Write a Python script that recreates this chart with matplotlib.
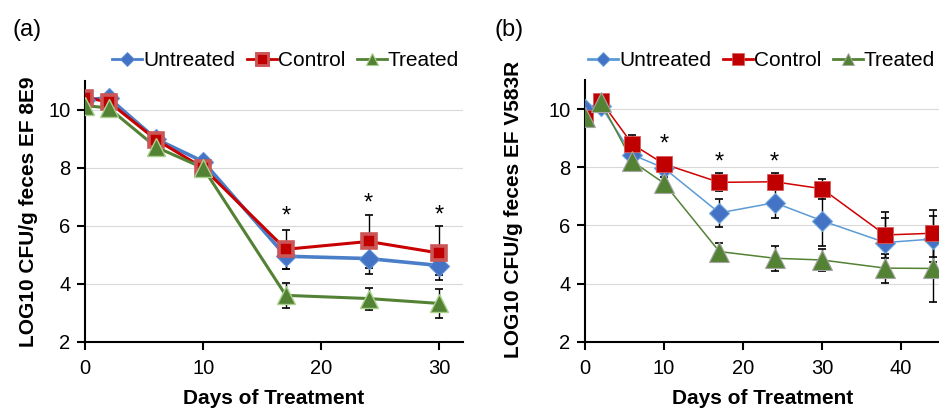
import matplotlib
matplotlib.use("Agg")
import matplotlib.pyplot as plt
from matplotlib.lines import Line2D

plt.rcParams['font.family'] = ['Liberation Sans', 'DejaVu Sans']

# ---------------- data ----------------
days_a = [0, 2, 6, 10, 17, 24, 30]
untreated_a = [10.35, 10.42, 9.00, 8.22, 4.95, 4.87, 4.63]
untreated_a_err = [0.10, 0.10, 0.15, 0.15, 0.45, 0.54, 0.33]
control_a = [10.43, 10.28, 8.98, 8.00, 5.19, 5.46, 5.06]
control_a_err = [0.10, 0.10, 0.15, 0.15, 0.68, 0.90, 0.93]
treated_a = [10.15, 10.07, 8.72, 8.00, 3.60, 3.49, 3.32]
treated_a_err = [0.10, 0.10, 0.15, 0.15, 0.43, 0.38, 0.49]
stars_a_x = [17, 24, 30]
stars_a_y = [6.55, 7.00, 6.57]

days_b = [0, 2, 6, 10, 17, 24, 30, 38, 44]
untreated_b = [10.00, 10.10, 8.43, 7.97, 6.43, 6.78, 6.16, 5.41, 5.53]
untreated_b_err = [0.10, 0.15, 0.20, 0.15, 0.49, 0.53, 0.88, 0.84, 0.78]
control_b = [9.68, 10.28, 8.79, 8.11, 7.48, 7.50, 7.26, 5.67, 5.73]
control_b_err = [0.15, 0.10, 0.33, 0.15, 0.31, 0.30, 0.35, 0.80, 0.80]
treated_b = [9.74, 10.25, 8.20, 7.45, 5.10, 4.87, 4.81, 4.53, 4.52]
treated_b_err = [0.15, 0.10, 0.20, 0.20, 0.28, 0.43, 0.38, 0.50, 1.15]
stars_b_x = [10, 17, 24]
stars_b_y = [9.00, 8.37, 8.37]

series_names = ["Untreated", "Control", "Treated"]
y_ticks = [2, 4, 6, 8, 10]
xticks_a = [0, 10, 20, 30]
xticks_b = [0, 10, 20, 30, 40]
ylabel_a = "LOG10 CFU/g feces EF 8E9"
ylabel_b = "LOG10 CFU/g feces EF V583R"
xlabel = "Days of Treatment"

# ---------------- style ----------------
BLUE_M = "#4472C4"
RED_M = "#C00000"
GREEN_M = "#548235"

W, H = 939, 408
fig = plt.figure(figsize=(W / 100, H / 100), dpi=100)
ax_a = fig.add_axes([85 / W, 1 - 341.7 / H, (463 - 85) / W, (341.7 - 81) / H])
ax_b = fig.add_axes([585 / W, 1 - 341.7 / H, (939 - 585) / W, (341.7 - 80) / H])

style_a = [
    dict(marker="D", color="#4A7EC8", mfc=BLUE_M, mec="#5B8FD5", ms=10.5, mew=0.8, lw=2.6),
    dict(marker="s", color="#C80000", mfc=RED_M, mec="#CC5555", ms=10.5, mew=2.6, lw=2.2),
    dict(marker="^", color=GREEN_M, mfc=GREEN_M, mec="#A9D18E", ms=12.5, mew=1.0, lw=2.2),
]
style_b = [
    dict(marker="D", color="#5B9BD5", mfc=BLUE_M, mec="#6FA8DC", ms=10, mew=0.8, lw=1.1),
    dict(marker="s", color="#D00000", mfc=RED_M, mec="#D85A5A", ms=12, mew=0.6, lw=1.1),
    dict(marker="^", color=GREEN_M, mfc=GREEN_M, mec="#A6A6A6", ms=14, mew=0.8, lw=1.1),
]

STAR_FS = 17


def draw_panel(ax, days, ys, errs, styles, stars_x, stars_y, xticks, xmax, ylab):
    for i, (y, e, st) in enumerate(zip(ys, errs, styles)):
        ax.plot(days, y, linestyle="-", color=st["color"], lw=st["lw"], zorder=3 + i * 0.1)
    for i, (y, e, st) in enumerate(zip(ys, errs, styles)):
        ax.errorbar(days, y, yerr=e, fmt="none", ecolor="black", elinewidth=1.0,
                    capsize=2.6, capthick=1.2, zorder=4 + i * 0.1)
        ax.plot(days, y, linestyle="none", marker=st["marker"], ms=st["ms"],
                mfc=st["mfc"], mec=st["mec"], mew=st["mew"], zorder=5 + i * 0.1)
    for sx, sy in zip(stars_x, stars_y):
        ax.annotate("*", (sx, sy), xytext=(0, -0.52 * STAR_FS), textcoords="offset points",
                    ha="center", va="baseline", fontsize=STAR_FS, color="black", zorder=6)
    ax.set_xlim(0, xmax)
    ax.set_ylim(2, 11)
    ax.set_yticks(y_ticks)
    ax.set_xticks(xticks)
    ax.grid(axis="y", color="#D9D9D9", lw=0.8, zorder=0)
    ax.set_axisbelow(True)
    for s in ["top", "right"]:
        ax.spines[s].set_visible(False)
    for s in ["left", "bottom"]:
        ax.spines[s].set_linewidth(1.5)
        ax.spines[s].set_zorder(2.5)
    ax.tick_params(axis="both", direction="out", length=5.5, width=1.5, labelsize=14.5,
                   colors="black")
    ax.tick_params(axis="y", pad=5)
    ax.tick_params(axis="x", pad=7)
    ax.set_xlabel(xlabel, fontsize=15, fontweight="bold")
    ax.set_ylabel(ylab, fontsize=15, fontweight="bold")


draw_panel(ax_a, days_a, [untreated_a, control_a, treated_a],
           [untreated_a_err, control_a_err, treated_a_err], style_a,
           stars_a_x, stars_a_y, xticks_a, 32, ylabel_a)
draw_panel(ax_b, days_b, [untreated_b, control_b, treated_b],
           [untreated_b_err, control_b_err, treated_b_err], style_b,
           stars_b_x, stars_b_y, xticks_b, 44.8, ylabel_b)

ax_a.xaxis.set_label_coords(0.5, -0.18)
ax_b.xaxis.set_label_coords(0.503, -0.18)
ax_a.yaxis.set_label_coords(-0.125, 0.5)
ax_b.yaxis.set_label_coords(-0.176, 0.505)


def legend_handles(styles, sizes):
    hs = []
    for st, ms, name in zip(styles, sizes, series_names):
        hs.append(Line2D([0], [0], color=st["color"], lw=2.0, marker=st["marker"], ms=ms,
                         mfc=st["mfc"], mec=st["mec"], mew=st["mew"] * 0.8, label=name))
    return hs


leg_a = fig.legend(handles=legend_handles(style_a, [7, 9, 9]), loc="center",
                   bbox_to_anchor=((113 + 458) / 2 / W, 1 - 61 / H), ncol=3, frameon=False,
                   fontsize=15, handlelength=1.45, handletextpad=0.05, columnspacing=0.55,
                   borderpad=0.1)
leg_b = fig.legend(handles=legend_handles(style_b, [7, 9, 9]), loc="center",
                   bbox_to_anchor=((591 + 932) / 2 / W, 1 - 61 / H), ncol=3, frameon=False,
                   fontsize=15, handlelength=1.45, handletextpad=0.05, columnspacing=0.55,
                   borderpad=0.1)

fig.text(12 / W, 1 - 30 / H, "(a)", fontsize=17, ha="left", va="center")
fig.text(495 / W, 1 - 30 / H, "(b)", fontsize=17, ha="left", va="center")

fig.savefig("out.png", dpi=100)
